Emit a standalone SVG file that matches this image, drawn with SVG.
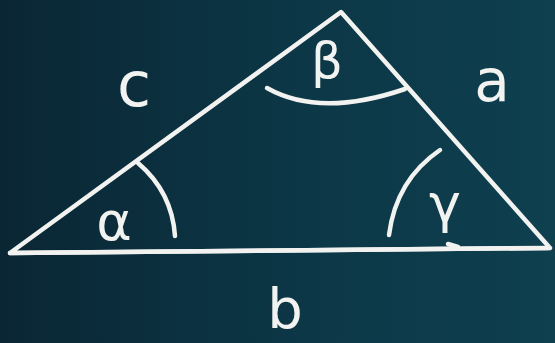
<svg xmlns="http://www.w3.org/2000/svg" width="555" height="343" viewBox="0 0 555 343">
<defs>
<linearGradient id="bg" x1="0" y1="0" x2="1" y2="0">
<stop offset="0" stop-color="#0a2634"/>
<stop offset="0.5" stop-color="#0c3645"/>
<stop offset="1" stop-color="#0e4050"/>
</linearGradient>
<style>
.ch{fill:none;stroke:#f2f2f0;stroke-width:4.5;stroke-linecap:round;stroke-linejoin:round}
.lb{fill:#f2f2f0;font-family:"DejaVu Sans","Liberation Sans",sans-serif;text-anchor:middle}
</style>
</defs>
<rect width="555" height="343" fill="url(#bg)"/>
<g id="triangle">
<path class="ch" d="M10 253 L341 12 L550 248 Z"/>
<path class="ch" d="M10 253 L548 248"/>
</g>
<g id="arcs">
<path class="ch" d="M267 88 Q320 118 405 89"/>
<path class="ch" d="M138 163 Q172 192 175 236"/>
<path class="ch" d="M440 150 Q396 180 389 235"/>
<path class="ch" stroke-width="3" d="M448 244 L458 247"/>
</g>
<g id="labels">
<text class="lb" x="134" y="106" font-size="62">c</text>
<text class="lb" x="327" y="78" font-size="50">β</text>
<text class="lb" x="492" y="101" font-size="58">a</text>
<text class="lb" x="114" y="240" font-size="54">α</text>
<text class="lb" x="445" y="222" font-size="54">γ</text>
<text class="lb" x="285" y="328" font-size="56">b</text>
</g>
</svg>
